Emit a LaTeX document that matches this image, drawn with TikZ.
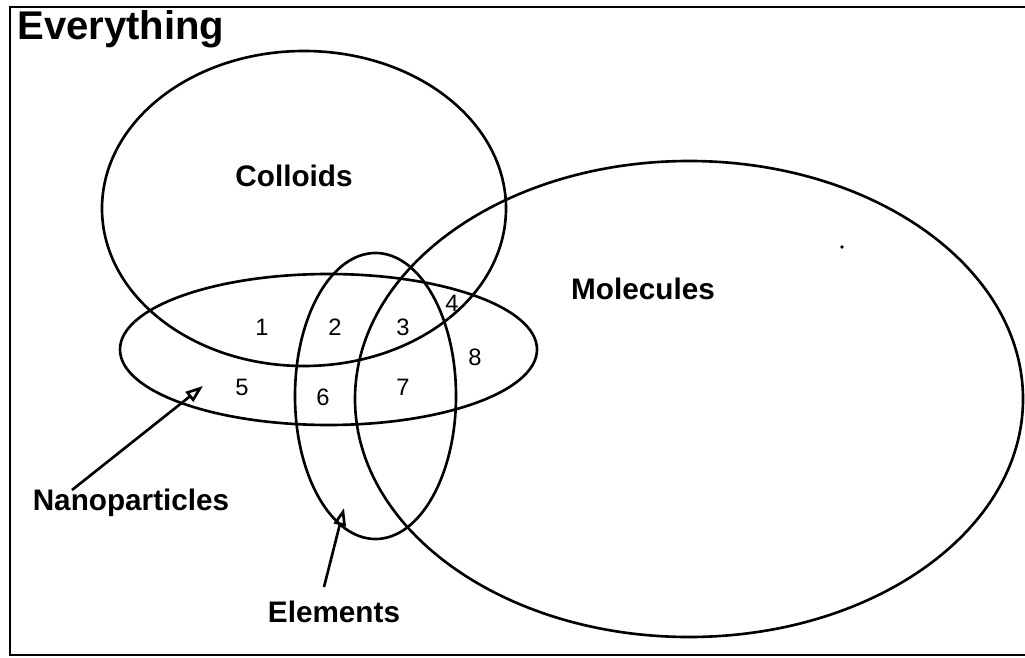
\documentclass[tikz,border=0pt]{standalone}
\usepackage{fontspec}
\setmainfont{Liberation Sans}
\usetikzlibrary{arrows.meta}
\tikzset{
  setline/.style={line width=1.5pt},
  setlabel/.style={font=\fontsize{16.9}{18}\selectfont\bfseries, inner sep=0pt},
  numlabel/.style={font=\fontsize{13.5}{15}\selectfont, inner sep=0pt},
  pointer/.style={line width=1.5pt, -{Triangle[open,length=10pt,width=7pt]}}
}
\begin{document}
\begin{tikzpicture}[x=0.2mm,y=-0.2mm]
\useasboundingbox (0,0) rectangle (1025,658);
\fill[white] (0,0) rectangle (1025,658);
% frame
\draw[line width=1.6pt] (1030,7) -- (10,7) -- (10,655) -- (1030,655);
\node[anchor=base west, font=\fontsize{22.8}{24}\selectfont\bfseries, inner sep=0pt] (title) at (17,40) {Everything};
% sets
\draw[setline] (304,208.5) ellipse [x radius=202, y radius=157.5];
\draw[setline] (689,399) ellipse [x radius=334, y radius=238];
\draw[setline] (328.5,349.5) ellipse [x radius=208.5, y radius=75.5];
\draw[setline] (375.5,396) ellipse [x radius=80.5, y radius=143];
% labels
\node[setlabel] (colloids) at (294,176) {Colloids};
\node[setlabel] (molecules) at (643,289) {Molecules};
\node[setlabel] (nano) at (131,503) {Nanoparticles};
\node[setlabel] (elem) at (334,612) {Elements};
% region numbers
\node[numlabel] (n1) at (262,327) {1};
\node[numlabel] (n2) at (335,327) {2};
\node[numlabel] (n3) at (403,327) {3};
\node[numlabel] (n4) at (452,303) {4};
\node[numlabel] (n5) at (242,387) {5};
\node[numlabel] (n6) at (323,397) {6};
\node[numlabel] (n7) at (403,387) {7};
\node[numlabel] (n8) at (475,357) {8};
% pointers
\coordinate (nanostart) at (72,490);
\coordinate (nanotip) at (203,386);
\coordinate (elemstart) at (324,587);
\coordinate (elemtip) at (344,508);
\draw[pointer] (nanostart) -- (nanotip);
\draw[pointer] (elemstart) -- (elemtip);
% stray dot
\fill (842,247) circle [radius=1.8];
\end{tikzpicture}
\end{document}
